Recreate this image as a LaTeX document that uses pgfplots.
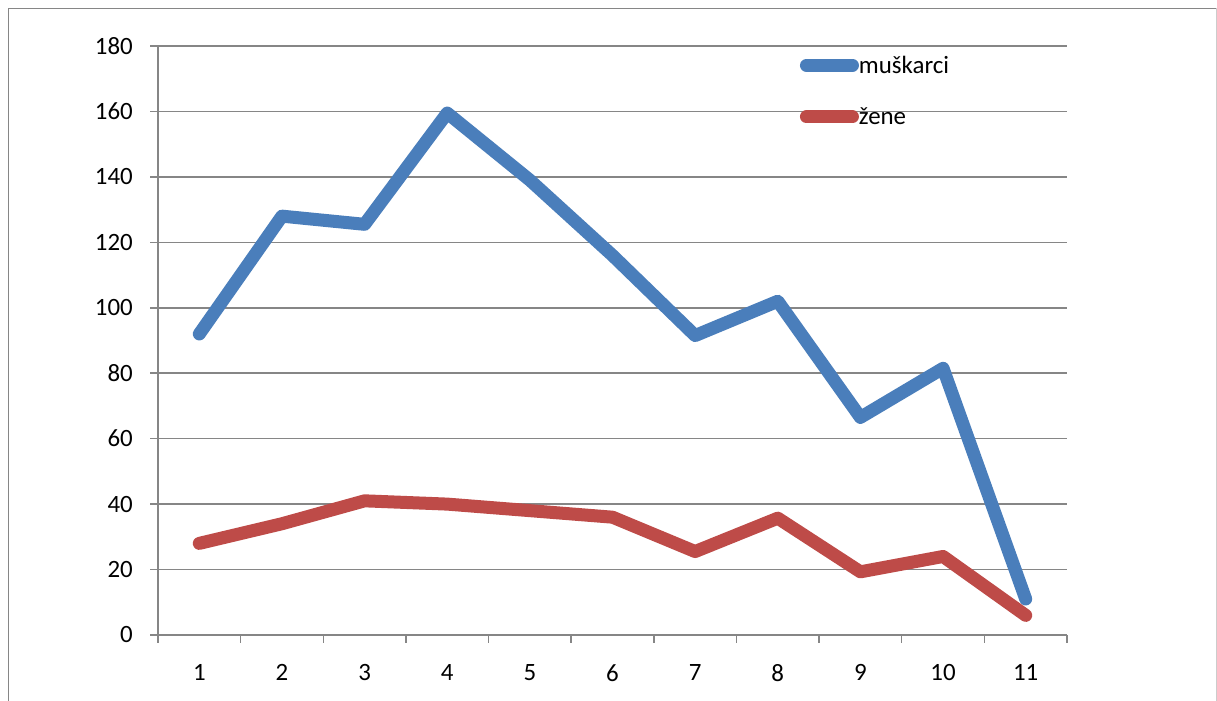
\documentclass[border=0pt]{standalone}
\usepackage{pgfplots}
\pgfplotsset{compat=1.18}
\usepackage{fontspec}
\setmainfont{Carlito}
\definecolor{exblue}{HTML}{4A7EBB}
\definecolor{exred}{HTML}{BE4B48}
\definecolor{exgray}{HTML}{868686}
\begin{document}
\begin{tikzpicture}[x=1bp,y=1bp]
\useasboundingbox (0,0) rectangle (1217,701);
\draw[exgray, line width=1.5bp] (8.5,-5) -- (8.5,692.5) -- (1216,692.5);
\draw[gray!40, line width=1bp] (1216,692.5) -- (1216,-5);
\begin{axis}[
  at={(158bp,66bp)}, anchor=south west,
  scale only axis, width=909bp, height=589bp,
  xmin=0.5, xmax=11.5, ymin=0, ymax=180,
  axis x line*=bottom, axis y line*=left,
  axis line style={exgray, line width=1.5bp},
  xtick={1,...,11},
  x tick style={draw=none},
  extra x ticks={0.5,1.5,...,11.5},
  extra x tick labels={},
  extra x tick style={x tick style={draw=exgray, line width=1.5bp}, major tick length=8bp, tick align=outside, grid=none},
  ytick={0,20,...,180},
  y tick style={draw=exgray, line width=1.5bp},
  major tick length=8bp, tick align=outside,
  ymajorgrids, grid style={exgray, line width=1.5bp},
  tick label style={font=\fontsize{25}{30}\selectfont},
  yticklabel style={inner sep=0pt, xshift=-17bp},
  xticklabel style={inner sep=0pt, yshift=-21bp},
  /pgf/number format/assume math mode=true,
  legend style={at={(0.706,0.9236)}, anchor=west, draw=none, fill=none, inner sep=0pt, font=\fontsize{25}{30}\selectfont, row sep=33bp, nodes={inner sep=0pt}},
  legend cell align=left,
  legend image code/.code={\draw[#1] (0bp,0bp) -- (46bp,0bp);},
  clip=false,
]
\addplot[exblue, line width=13bp, line cap=round, line join=round] coordinates {
(1,92) (2,128) (3,125.5) (4,159.5) (5,139) (6,116) (7,91.5) (8,102) (9,66.5) (10,81.5) (11,11)};
\addlegendentry{muškarci}
\addplot[exred, line width=13bp, line cap=round, line join=round] coordinates {
(1,28) (2,34) (3,41) (4,40) (5,38) (6,36) (7,25.5) (8,35.7) (9,19.3) (10,24) (11,6)};
\addlegendentry{žene}
\end{axis}
\end{tikzpicture}
\end{document}
